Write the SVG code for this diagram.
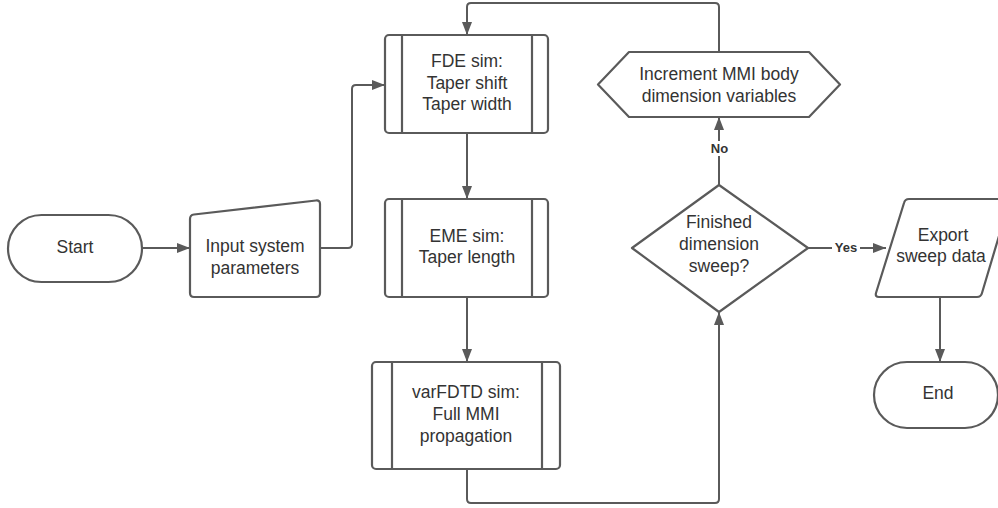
<svg xmlns="http://www.w3.org/2000/svg" width="998" height="508" viewBox="0 0 998 508">
<defs>
<marker id="arr" markerUnits="userSpaceOnUse" markerWidth="13" markerHeight="10" refX="13" refY="5" orient="auto">
<path d="M0,0 L13,5 L0,10 Z" fill="#5a5a5a"/>
</marker>
<style>
.shape{fill:#ffffff;stroke:#5a5a5a;stroke-width:2.2;stroke-linejoin:round}
.bar{stroke:#5a5a5a;stroke-width:2.2}
.conn{fill:none;stroke:#5a5a5a;stroke-width:2}
.t{font-family:"Liberation Sans",Arial,sans-serif;font-size:17.5px;fill:#333333;text-anchor:middle}
.lbl{font-family:"Liberation Sans",Arial,sans-serif;font-size:13px;font-weight:bold;fill:#333333;text-anchor:middle}
</style>
</defs>
<rect width="998" height="508" fill="#ffffff"/>
<g id="connectors">
<path class="conn" d="M142,248 L190,248" marker-end="url(#arr)"/>
<path class="conn" d="M320,248 L348,248 Q352,248 352,244 L352,89 Q352,85 356,85 L385,85" marker-end="url(#arr)"/>
<path class="conn" d="M719,52 L719,7 Q719,3 715,3 L471,3 Q467,3 467,7 L467,35" marker-end="url(#arr)"/>
<path class="conn" d="M467,133 L467,199" marker-end="url(#arr)"/>
<path class="conn" d="M467,297 L467,362" marker-end="url(#arr)"/>
<path class="conn" d="M467,469 L467,499 Q467,503 471,503 L715,503 Q719,503 719,499 L719,312" marker-end="url(#arr)"/>
<path class="conn" d="M719,185 L719,117" marker-end="url(#arr)"/>
<path class="conn" d="M808,248 L886,248" marker-end="url(#arr)"/>
<path class="conn" d="M940,297 L940,362" marker-end="url(#arr)"/>
<rect x="709" y="141" width="21" height="15" fill="#ffffff"/>
<text class="lbl" x="719.5" y="153">No</text>
<rect x="832" y="240" width="28" height="15" fill="#ffffff"/>
<text class="lbl" x="846" y="252">Yes</text>
</g>
<g id="start">
<rect class="shape" x="8" y="215" width="134" height="67" rx="33.5"/>
<text class="t" x="75" y="253">Start</text>
</g>
<g id="input">
<path class="shape" d="M190,219 Q190,215 194,214.5 L316,200.5 Q320,200 320,204 L320,293 Q320,297 316,297 L194,297 Q190,297 190,293 Z"/>
<text class="t" x="255" y="252">Input system</text>
<text class="t" x="255" y="273.5">parameters</text>
</g>
<g id="fde">
<rect class="shape" x="385" y="35" width="163" height="98" rx="4"/>
<line class="bar" x1="402" y1="35" x2="402" y2="133"/>
<line class="bar" x1="532" y1="35" x2="532" y2="133"/>
<text class="t" x="467" y="67">FDE sim:</text>
<text class="t" x="467" y="88.5">Taper shift</text>
<text class="t" x="467" y="110">Taper width</text>
</g>
<g id="eme">
<rect class="shape" x="385" y="199" width="163" height="98" rx="4"/>
<line class="bar" x1="402" y1="199" x2="402" y2="297"/>
<line class="bar" x1="532" y1="199" x2="532" y2="297"/>
<text class="t" x="467" y="242">EME sim:</text>
<text class="t" x="467" y="263">Taper length</text>
</g>
<g id="varfdtd">
<rect class="shape" x="372" y="362" width="188" height="107" rx="4"/>
<line class="bar" x1="392" y1="362" x2="392" y2="469"/>
<line class="bar" x1="542" y1="362" x2="542" y2="469"/>
<text class="t" x="466" y="398">varFDTD sim:</text>
<text class="t" x="466" y="420">Full MMI</text>
<text class="t" x="466" y="442">propagation</text>
</g>
<g id="increment">
<polygon class="shape" points="598,84.5 629,52 809,52 840,84.5 809,117 629,117"/>
<text class="t" x="719" y="80">Increment MMI body</text>
<text class="t" x="719" y="101.5">dimension variables</text>
</g>
<g id="decision">
<polygon class="shape" points="719,185 808,248 719,312 632,248"/>
<text class="t" x="719" y="228">Finished</text>
<text class="t" x="719" y="250">dimension</text>
<text class="t" x="719" y="272">sweep?</text>
</g>
<g id="export">
<path class="shape" d="M904,203 Q905,199 909,199 L1010,199 L982,293 Q981,297 977,297 L879,297 Q875,297 876,293 Z"/>
<text class="t" x="943" y="241">Export</text>
<text class="t" x="941" y="262">sweep data</text>
</g>
<g id="end">
<rect class="shape" x="874" y="362" width="124" height="66" rx="33"/>
<text class="t" x="938" y="399">End</text>
</g>
</svg>
